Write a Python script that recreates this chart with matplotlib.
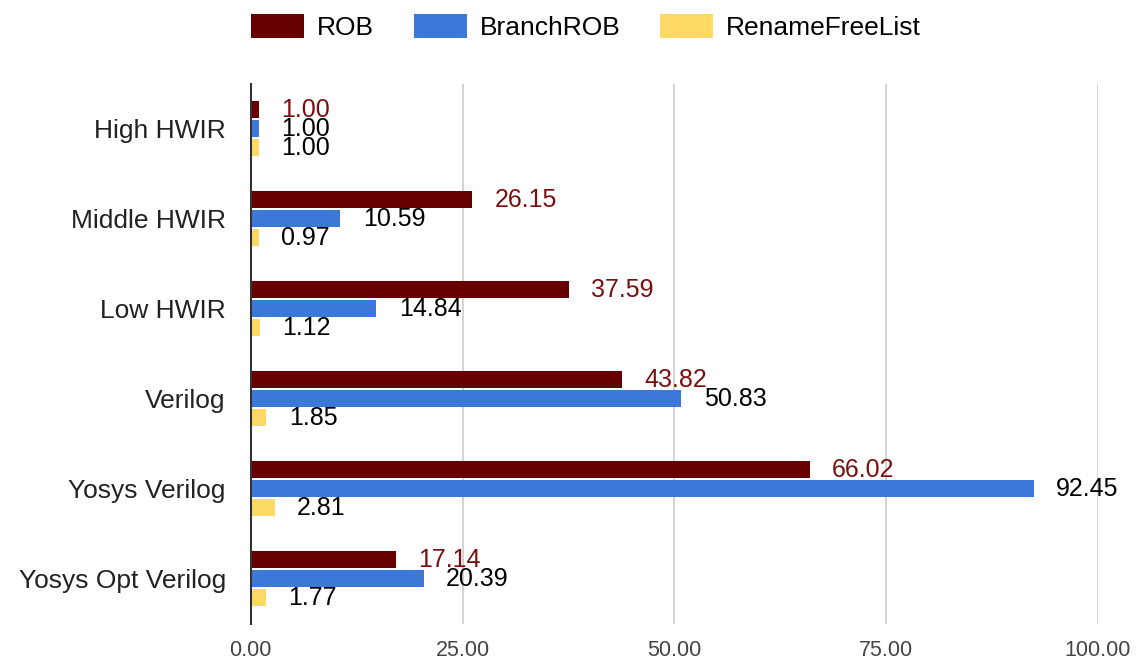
import matplotlib.pyplot as plt
import numpy as np

categories = ['High HWIR', 'Middle HWIR', 'Low HWIR', 'Verilog', 'Yosys Verilog', 'Yosys Opt Verilog']
rob = [1.00, 26.15, 37.59, 43.82, 66.02, 17.14]
branch_rob = [1.00, 10.59, 14.84, 50.83, 92.45, 20.39]
rename_free = [1.00, 0.97, 1.12, 1.85, 2.81, 1.77]
series_names = ['ROB', 'BranchROB', 'RenameFreeList']
colors = ['#660000', '#3c78d8', '#ffd966']
label_colors = ['#7a0f0f', 'black', 'black']

plt.rcParams['font.family'] = ['Liberation Sans', 'DejaVu Sans']
fig = plt.figure(figsize=(11.4, 6.65), dpi=100)
ax = fig.add_axes([0.220, 0.062, 0.743, 0.812])

y = np.arange(len(categories))
pitch = 0.21
h = 0.19
for k, (vals, name) in enumerate(zip([rob, branch_rob, rename_free], series_names)):
    pos = y + (k - 1) * pitch
    ax.barh(pos, vals, height=h, color=colors[k], label=name, zorder=3)
    for p, v in zip(pos, vals):
        ax.annotate('%.2f' % v, (v, p), xytext=(16, 0), textcoords='offset points',
                    ha='left', va='center', fontsize=18, color=label_colors[k],
                    annotation_clip=False, zorder=4)

ax.set_ylim(len(categories) - 0.5, -0.5)
ax.set_xlim(0, 100)
ax.set_yticks(y)
ax.set_yticklabels(categories, fontsize=19, color='#222222')
ax.set_xticks([0, 25, 50, 75, 100])
ax.set_xticklabels(['0.00', '25.00', '50.00', '75.00', '100.00'], fontsize=15.5, color='#444444')
ax.tick_params(axis='both', length=0)
ax.tick_params(axis='y', pad=18)
ax.tick_params(axis='x', pad=12)
ax.grid(axis='x', color='#cccccc', linewidth=1.2, zorder=0)
for s in ['top', 'right', 'bottom']:
    ax.spines[s].set_visible(False)
ax.spines['left'].set_color('#333333')
ax.spines['left'].set_linewidth(1.5)
ax.spines['left'].set_zorder(5)

ax.legend(loc='lower left', bbox_to_anchor=(-0.012, 1.062), ncol=3, frameon=False,
          fontsize=19, handlelength=2.0, handleheight=1.0, columnspacing=1.5,
          handletextpad=0.5, borderaxespad=0)

fig.savefig('out.png', dpi=100)
